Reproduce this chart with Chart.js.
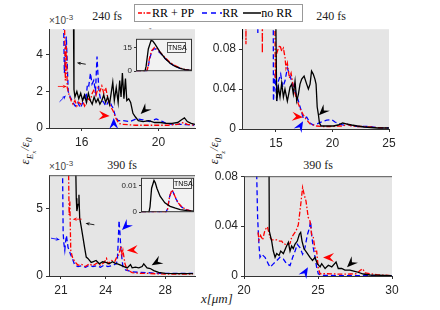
<!DOCTYPE html>
<html>
<head>
<meta charset="utf-8">
<script src="https://cdn.jsdelivr.net/npm/chart.js@4.4.0/dist/chart.umd.min.js"></script>
<style>
body { margin:0; width:440px; height:310px; background:#fff; position:relative; overflow:hidden; font-family:"Liberation Serif", serif; }
canvas { position:absolute; }
.txt { position:absolute; white-space:nowrap; color:#222; }
.ttl { font-size:12px; transform:translateX(-50%); }
.exp { font-family:"Liberation Sans", sans-serif; font-size:10px; color:#444; }
.rot { transform:translate(-50%,-50%) rotate(-90deg); font-size:13px; font-style:italic; }
.tnsa { position:absolute; border:1px solid #555; background:#f4f4f4; font-family:"Liberation Sans", sans-serif; font-size:7px; text-align:center; box-sizing:border-box; }
#legend { position:absolute; left:134px; top:4px; width:169px; height:18px; border:1px solid #999; background:#fff; box-sizing:border-box; font-size:12px; display:flex; align-items:center; }
#legend span { margin-right:2px; }
#legend svg { margin-left:3px; }
</style>
</head>
<body>
<div id="legend">
  <svg width="14" height="6"><line x1="0" y1="3" x2="14" y2="3" stroke="#f00" stroke-width="1.5" stroke-dasharray="4,1.5,1.5,1.5"/></svg><span>RR + PP</span>
  <svg width="20" height="6" style="margin-left:6px"><line x1="0" y1="3" x2="20" y2="3" stroke="#00f" stroke-width="1.5" stroke-dasharray="5,4"/></svg><span>RR</span>
  <svg width="18" height="6"><line x1="0" y1="3" x2="18" y2="3" stroke="#000" stroke-width="1.5"/></svg><span>no RR</span>
</div>

<div class="txt ttl" style="left:107px;top:9px">240 fs</div>
<div class="txt ttl" style="left:331px;top:9px">240 fs</div>
<div class="txt ttl" style="left:122px;top:158px">390 fs</div>
<div class="txt ttl" style="left:318px;top:158px">390 fs</div>

<div class="txt exp" style="left:49px;top:13px">×10<sup style="font-size:8px">-3</sup></div>
<div class="txt exp" style="left:49px;top:159px">×10<sup style="font-size:8px">-3</sup></div>
<div class="txt exp" style="left:137px;top:27px;font-size:6px">×10<sup style="font-size:5px">-3</sup></div>

<div class="txt rot" style="left:27px;top:151px">ε<sub style="font-size:9px">E<sub style="font-size:7px">x</sub></sub>/ε<sub style="font-size:9px">0</sub></div>
<div class="txt rot" style="left:216px;top:151px">ε<sub style="font-size:9px">B<sub style="font-size:7px">z</sub></sub>/ε<sub style="font-size:9px">0</sub></div>
<div class="txt" style="left:201px;top:291px;font-size:13px;font-style:italic">x[μm]</div>

<canvas id="cA"></canvas>
<canvas id="cB"></canvas>
<canvas id="cC"></canvas>
<canvas id="cD"></canvas>
<canvas id="iA"></canvas>
<canvas id="iC"></canvas>
<div class="tnsa" style="left:167px;top:42px;width:19px;height:11px;line-height:9px">TNSA</div>
<div class="tnsa" style="left:173px;top:178px;width:19px;height:11px;line-height:9px">TNSA</div>

<script>
// ---- panel A: E field energy, 240 fs (units of 1e-3)
const aRedX = [15.1, 15.15, 15.2, 15.25, 15.35, 15.45, 15.55, 15.65, 15.75, 15.85, 15.95, 16.05, 16.15, 16.25, 16.35, 16.45, 16.55, 16.65, 16.75, 16.85, 16.95, 17.05, 17.15, 17.25, 17.35, 17.45, 17.55, 17.65, 17.75, 17.85, 17.95, 18.1, 18.4, 18.8, 19.2, 19.6, 20.0, 20.5, 21.0, 21.3, 21.5, 21.9];
const aRedY = [6.5, 2.6, 4.5, 2.2, 1.8, 1.5, 1.3, 1.5, 1.2, 1.4, 1.3, 1.5, 1.2, 1.4, 1.6, 1.5, 1.9, 2.1, 1.8, 2.2, 2.0, 2.3, 1.9, 2.2, 1.7, 1.3, 1.1, 0.9, 0.6, 0.4, 0.25, 0.2, 0.18, 0.15, 0.15, 0.15, 0.15, 0.15, 0.2, 0.3, 0.2, 0.15];
const aBlueX = [15.05, 15.1, 15.2, 15.3, 15.4, 15.5, 15.6, 15.67, 15.8, 15.93, 16.02, 16.1, 16.18, 16.24, 16.3, 16.37, 16.46, 16.54, 16.63, 16.72, 16.8, 16.85, 16.9, 16.98, 17.07, 17.15, 17.25, 17.32, 17.42, 17.49, 17.57, 17.63, 17.77, 17.9, 18.15, 18.5, 18.84, 19.19, 19.53, 19.88, 20.22, 20.4, 20.74, 21.1, 21.43, 21.86];
const aBlueY = [6.5, 3.0, 5.0, 2.0, 1.7, 1.5, 1.3, 1.2, 1.4, 1.1, 1.3, 1.5, 1.9, 1.7, 2.4, 2.3, 3.0, 2.4, 2.6, 2.0, 3.9, 2.9, 2.0, 1.6, 1.5, 1.4, 1.2, 1.3, 1.5, 1.4, 1.2, 1.1, 0.6, 0.4, 0.4, 0.35, 0.5, 0.45, 0.35, 0.5, 0.35, 0.25, 0.2, 0.2, 0.18, 0.15];
const aBlackX = [15.57, 15.6, 15.65, 15.75, 15.85, 15.95, 16.05, 16.15, 16.25, 16.35, 16.45, 16.55, 16.65, 16.75, 16.85, 16.95, 17.05, 17.15, 17.25, 17.35, 17.45, 17.55, 17.62, 17.7, 17.8, 17.9, 17.98, 18.05, 18.12, 18.2, 18.28, 18.35, 18.45, 18.55, 18.67, 18.8, 18.95, 19.2, 19.5, 19.8, 20.1, 20.4, 20.7, 21.0, 21.2, 21.35, 21.5, 21.7, 21.9];
const aBlackY = [6.5, 2.1, 1.7, 2.0, 1.6, 1.9, 1.5, 1.8, 1.4, 1.9, 1.5, 1.3, 1.7, 1.4, 1.6, 1.3, 1.5, 1.8, 1.4, 1.7, 1.3, 2.0, 2.5, 1.5, 2.2, 1.4, 2.6, 1.7, 3.0, 1.6, 2.7, 1.5, 1.6, 1.4, 0.8, 0.6, 0.4, 0.35, 0.4, 0.3, 0.3, 0.25, 0.25, 0.3, 0.45, 0.55, 0.35, 0.25, 0.2];

// ---- panel B: B field energy, 240 fs
const bRedX = [12.33, 12.35, 12.37, 13.78, 13.8, 13.82, 14.88, 14.95, 15.05, 15.22, 15.36, 15.51, 15.66, 15.8, 15.89, 16.01, 16.19, 16.34, 16.54, 16.78, 16.99, 17.19, 17.43, 17.72, 18.02, 18.6, 19.2, 19.78, 20.4, 20.96, 21.25, 21.7, 22.2, 22.73, 23.3, 23.9, 24.5, 24.95];
const bRedY = [0.15, 0.085, 0.15, 0.15, 0.076, 0.15, 0.15, 0.05, 0.075, 0.081, 0.084, 0.078, 0.081, 0.072, 0.061, 0.066, 0.051, 0.056, 0.042, 0.032, 0.025, 0.019, 0.014, 0.009, 0.005, 0.003, 0.0025, 0.0025, 0.003, 0.003, 0.005, 0.003, 0.0025, 0.0025, 0.002, 0.0015, 0.0012, 0.001];
const bBlueX = [13.38, 13.4, 13.42, 14.76, 14.78, 14.92, 15.07, 15.22, 15.42, 15.6, 15.8, 16.01, 16.19, 16.4, 16.6, 16.78, 16.99, 17.19, 17.43, 17.72, 18.02, 18.3, 18.6, 19.04, 19.49, 19.93, 20.22, 20.67, 20.96, 21.25, 21.7, 22.29, 23.18, 23.9, 24.95];
const bBlueY = [0.15, 0.095, 0.15, 0.15, 0.028, 0.055, 0.028, 0.048, 0.055, 0.042, 0.048, 0.061, 0.055, 0.048, 0.042, 0.035, 0.028, 0.02, 0.0105, 0.012, 0.006, 0.004, 0.005, 0.0072, 0.0088, 0.0095, 0.007, 0.005, 0.004, 0.005, 0.003, 0.0025, 0.0025, 0.0015, 0.001];
const bBlackX = [12.0, 12.02, 12.05, 14.95, 15.07, 15.22, 15.36, 15.51, 15.66, 15.8, 16.01, 16.25, 16.4, 16.54, 16.69, 16.84, 16.99, 17.13, 17.28, 17.49, 17.72, 17.87, 18.02, 18.15, 18.3, 18.45, 18.55, 18.65, 18.75, 18.85, 19.0, 19.3, 19.7, 20.1, 20.5, 20.9, 21.3, 21.7, 22.2, 22.8, 23.4, 24.0, 24.5, 25.0];
const bBlackY = [0.15, 0.09, 0.15, 0.15, 0.028, 0.042, 0.032, 0.046, 0.032, 0.04, 0.028, 0.042, 0.045, 0.035, 0.048, 0.028, 0.035, 0.045, 0.05, 0.053, 0.045, 0.04, 0.045, 0.058, 0.055, 0.05, 0.045, 0.022, 0.015, 0.006, 0.003, 0.003, 0.003, 0.003, 0.004, 0.006, 0.005, 0.004, 0.003, 0.002, 0.0015, 0.001, 0.001, 0.001];

// ---- panel C: E field energy, 390 fs (units of 1e-3)
const cRedX = [21.5, 21.55, 21.6, 21.66, 21.77, 21.93, 22.15, 22.4, 22.65, 22.9, 23.15, 23.4, 23.65, 23.9, 24.06, 24.17, 24.39, 24.61, 24.75, 24.9, 25.03, 25.1, 25.16, 25.3, 25.45, 25.78, 26.3, 26.89, 27.5, 27.99, 28.8, 29.87];
const cRedY = [9, 4.5, 5.5, 1.9, 1.4, 1.05, 0.8, 0.85, 0.7, 0.9, 0.75, 0.95, 0.8, 1.0, 1.3, 0.9, 1.15, 1.05, 1.4, 1.6, 2.2, 1.6, 1.9, 0.9, 0.45, 0.25, 0.2, 0.19, 0.16, 0.14, 0.14, 0.14];
const cBlueX = [21.1, 21.15, 21.2, 21.26, 21.32, 21.37, 21.48, 21.56, 21.64, 21.77, 21.93, 22.15, 22.4, 22.65, 22.9, 23.15, 23.4, 23.65, 23.9, 24.15, 24.4, 24.6, 24.72, 24.79, 24.86, 24.9, 24.96, 25.03, 25.16, 25.34, 25.78, 26.3, 26.89, 27.5, 27.99, 28.8, 29.87];
const cBlueY = [9, 3.2, 2.4, 1.9, 2.6, 3.0, 2.1, 1.9, 1.6, 1.3, 0.8, 0.7, 0.75, 0.65, 0.8, 0.7, 0.75, 0.65, 0.8, 0.7, 0.75, 0.85, 0.9, 1.2, 2.9, 4.1, 3.2, 1.9, 0.7, 0.45, 0.3, 0.27, 0.24, 0.2, 0.19, 0.19, 0.19];
const cBlackX = [21.98, 22.03, 22.07, 22.15, 22.21, 22.26, 22.37, 22.48, 22.59, 22.7, 22.81, 22.92, 23.03, 23.14, 23.36, 23.58, 23.8, 24.02, 24.24, 24.46, 24.62, 24.79, 25.01, 25.23, 25.45, 25.67, 25.78, 26.0, 26.23, 26.45, 26.56, 26.78, 27.0, 27.23, 27.56, 27.99, 28.8, 29.87];
const cBlackY = [9, 5.75, 4.8, 5.3, 6.0, 4.3, 3.6, 2.85, 2.1, 1.4, 1.3, 1.15, 1.0, 1.05, 1.15, 0.9, 1.05, 1.0, 0.9, 1.05, 0.95, 0.9, 0.8, 0.7, 0.6, 0.85, 0.6, 0.65, 0.6, 0.7, 0.9, 0.6, 0.55, 0.4, 0.27, 0.19, 0.18, 0.18];

// ---- panel D: B field energy, 390 fs
const dRedX = [20.95, 21.01, 21.12, 21.26, 21.42, 21.58, 21.76, 21.87, 22.05, 22.21, 22.4, 22.55, 22.66, 22.88, 23.11, 23.22, 23.33, 23.51, 23.67, 23.83, 23.96, 24.07, 24.19, 24.34, 24.46, 24.57, 24.68, 24.82, 24.91, 25.02, 25.14, 25.59, 26.2, 26.71, 27.2, 27.61, 27.84, 28.02, 28.18, 28.96, 29.98];
const dRedY = [0.035, 0.029, 0.0325, 0.029, 0.037, 0.0395, 0.031, 0.029, 0.029, 0.029, 0.028, 0.028, 0.026, 0.025, 0.026, 0.031, 0.033, 0.036, 0.041, 0.057, 0.071, 0.065, 0.06, 0.047, 0.044, 0.033, 0.031, 0.02, 0.02, 0.006, 0.0018, 0.0018, 0.0016, 0.0014, 0.0016, 0.0018, 0.0044, 0.0058, 0.0025, 0.001, 0.0003];
const dBlueX = [20.84, 20.86, 20.92, 21.01, 21.08, 21.19, 21.42, 21.64, 21.76, 21.98, 22.21, 22.43, 22.66, 22.88, 23.11, 23.29, 23.45, 23.6, 23.78, 23.96, 24.12, 24.28, 24.41, 24.5, 24.57, 24.68, 24.8, 24.91, 25.02, 25.25, 25.8, 26.71, 28.0, 29.98];
const dBlueY = [0.12, 0.08, 0.047, 0.025, 0.015, 0.0175, 0.015, 0.0097, 0.007, 0.0097, 0.0123, 0.015, 0.0136, 0.0097, 0.0084, 0.015, 0.02, 0.0254, 0.0227, 0.0175, 0.0227, 0.033, 0.038, 0.044, 0.033, 0.0227, 0.015, 0.007, 0.0018, 0.0005, 0.0004, 0.0003, 0.0003, 0.0003];
const dBlackX = [21.68, 21.71, 21.87, 21.98, 22.1, 22.21, 22.37, 22.48, 22.66, 22.84, 23.0, 23.11, 23.22, 23.33, 23.45, 23.6, 23.74, 23.83, 23.92, 24.05, 24.23, 24.46, 24.63, 24.8, 24.95, 25.14, 25.25, 25.48, 25.7, 25.93, 26.22, 26.37, 26.6, 26.82, 27.16, 27.61, 28.06, 28.51, 29.98];
const dBlackY = [0.12, 0.036, 0.028, 0.02, 0.015, 0.018, 0.0165, 0.02, 0.018, 0.023, 0.027, 0.02, 0.024, 0.022, 0.0256, 0.028, 0.0335, 0.035, 0.028, 0.022, 0.019, 0.015, 0.0125, 0.015, 0.0099, 0.0073, 0.0099, 0.006, 0.0086, 0.0073, 0.0112, 0.006, 0.006, 0.0047, 0.0047, 0.0034, 0.0016, 0.0008, 0.0003];

// ---- insets (TNSA spectra, arbitrary x)
const iaBlackX = [0, 16, 18, 22, 27, 30, 34, 43, 52, 61, 70, 79, 87.5, 100];
const iaBlackY = [0, 0, 3, 14, 19.4, 19, 17, 12, 8, 5, 3, 1.8, 1, 0.5];
const iaRedX = [0, 19, 21, 24, 28, 33, 36, 43, 52, 61, 70, 79, 87.5, 100];
const iaRedY = [0, 0, 2, 8, 13, 15, 14.8, 12, 8.5, 5.5, 3.5, 2, 1, 0.5];
const iaBlueX = [0, 19, 21, 24, 28, 32, 35, 43, 52, 61, 70, 79, 87.5, 100];
const iaBlueY = [0, 0, 1.5, 7, 12.5, 14, 14, 11.5, 8, 5, 3, 1.8, 0.9, 0.4];
const icBlackX = [0, 15, 17, 20, 24.5, 27, 30, 36, 45, 55, 65, 74, 87, 100];
const icBlackY = [0, 0, 0.002, 0.009, 0.0119, 0.011, 0.009, 0.006, 0.0035, 0.0022, 0.0015, 0.001, 0.0006, 0.0004];
const icRedX = [0, 47, 50, 54, 58.5, 61, 64, 70, 77, 85, 92, 100];
const icRedY = [0, 0, 0.001, 0.006, 0.0084, 0.0075, 0.006, 0.0035, 0.002, 0.001, 0.0006, 0.0003];
const icBlueX = [0, 47, 50, 54, 58, 61, 64, 70, 77, 85, 92, 100];
const icBlueY = [0, 0, 0.0012, 0.0058, 0.0082, 0.0074, 0.0058, 0.0034, 0.0019, 0.001, 0.0006, 0.0003];

// arrow annotations: tip in data units, direction in degrees (screen), colour, size
const aArrows = [[17.46, 0.65, 5, 'red', 1], [17.67, 0.54, -90, 'blue', 1], [19.07, 0.76, 135, 'black', 1],
	[15.75, 3.57, 190, 'black', 0.4], [15.23, 2.27, 0, 'red', 0.4], [15.18, 1.78, -45, 'blue', 0.4]];
const bArrows = [[17.4, 0.0118, 5, 'red', 1], [17.4, 0.0078, -60, 'blue', 1], [18.8, 0.0137, 135, 'black', 1]];
const cArrows = [[25.1, 3.4, 135, 'blue', 1], [25.43, 1.88, 175, 'red', 1], [27.09, 0.8, 150, 'black', 1],
	[21.79, 4.2, 180, 'red', 0.4], [22.65, 3.9, 190, 'black', 0.4], [20.93, 2.68, 10, 'blue', 0.4]];
const dArrows = [[25.34, 0.0149, 180, 'red', 1], [24.32, 0.007, -60, 'blue', 1], [26.96, 0.007, 135, 'black', 1]];

const COLORS = { red: '#ff0000', blue: '#0000ff', black: '#000000' };
const DASH = { red: [5, 2, 1.5, 2], blue: [5, 3], black: [] };

function ds(xs, ys, c) {
	return {
		data: xs.map((v, i) => ({ x: v, y: ys[i] })),
		borderColor: COLORS[c],
		borderDash: DASH[c],
		borderWidth: 1.3,
		pointRadius: 0,
		tension: 0,
		fill: false
	};
}

function arrowHead(ctx, x, y, ang, col, k) {
	ctx.save();
	ctx.translate(x, y);
	ctx.rotate(ang * Math.PI / 180);
	ctx.fillStyle = col;
	ctx.strokeStyle = col;
	if (k < 1) {
		// small marker: dot-like head with a short tail
		ctx.lineWidth = 0.8;
		ctx.beginPath();
		ctx.moveTo(-3, 0);
		ctx.lineTo(-9, 0);
		ctx.stroke();
	}
	ctx.beginPath();
	ctx.moveTo(0, 0);
	ctx.lineTo(-11 * k, -4.5 * k);
	ctx.lineTo(-7 * k, 0);
	ctx.lineTo(-11 * k, 4.5 * k);
	ctx.closePath();
	ctx.fill();
	ctx.restore();
}

const extras = {
	id: 'extras',
	beforeDraw(chart, args, o) {
		const a = chart.chartArea, ctx = chart.ctx;
		ctx.save();
		ctx.fillStyle = o.bg;
		ctx.fillRect(a.left, a.top, a.right - a.left, a.bottom - a.top);
		ctx.restore();
	},
	afterDatasetsDraw(chart, args, o) {
		const a = chart.chartArea, ctx = chart.ctx;
		ctx.save();
		if (o.box) {
			ctx.strokeStyle = '#333';
			ctx.lineWidth = 1;
			ctx.strokeRect(a.left + 0.5, a.top + 0.5, a.right - a.left - 1, a.bottom - a.top - 1);
		}
		if (o.topLine) {
			ctx.strokeStyle = '#555';
			ctx.lineWidth = 1;
			ctx.beginPath();
			ctx.moveTo(a.left, a.top + 0.5);
			ctx.lineTo(a.right, a.top + 0.5);
			ctx.stroke();
		}
		(o.arrows || []).forEach(([x, y, ang, c, k]) => {
			arrowHead(ctx, chart.scales.x.getPixelForValue(x), chart.scales.y.getPixelForValue(y), ang, COLORS[c], k);
		});
		ctx.restore();
	}
};

function axisStyle(size) {
	return {
		grid: { display: true, drawOnChartArea: false, drawTicks: true, tickLength: 3, color: '#333' },
		border: { display: true, color: '#333', width: 1 },
		ticks: { font: { family: 'Liberation Sans', size: size }, color: '#262626', padding: 3, maxRotation: 0, autoSkip: false }
	};
}

function panel(id, box, xr, yr, xt, yt, sets, arrows, topLine) {
	const cv = document.getElementById(id);
	const padT = 8, padR = 12, yw = 40, xh = 22;
	cv.width = yw + box.w + padR;
	cv.height = padT + box.h + xh;
	cv.style.left = (box.l - yw) + 'px';
	cv.style.top = (box.t - padT) + 'px';
	const xs = axisStyle(12), ys = axisStyle(12);
	xs.ticks.padding = 4;
	return new Chart(cv, {
		type: 'line',
		data: { datasets: sets },
		options: {
			responsive: false,
			animation: false,
			devicePixelRatio: 1,
			layout: { padding: { left: 0, top: padT, right: padR, bottom: 0 } },
			plugins: { legend: { display: false }, tooltip: { enabled: false }, extras: { bg: '#e5e5e5', arrows: arrows, topLine: topLine } },
			scales: {
				x: Object.assign({ type: 'linear', min: xr[0], max: xr[1],
					afterBuildTicks: s => { s.ticks = xt.map(v => ({ value: v })); },
					afterFit: s => { s.height = xh; } }, xs),
				y: Object.assign({ type: 'linear', min: yr[0], max: yr[1],
					afterBuildTicks: s => { s.ticks = yt.map(v => ({ value: v })); },
					afterFit: s => { s.width = yw; } }, ys)
			}
		},
		plugins: [extras]
	});
}

function inset(id, box, yr, yt, sets) {
	const cv = document.getElementById(id);
	const padT = 6, padR = 3, padB = 2, yw = 22;
	cv.width = yw + box.w + padR;
	cv.height = padT + box.h + padB;
	cv.style.left = (box.l - yw) + 'px';
	cv.style.top = (box.t - padT) + 'px';
	const ys = axisStyle(8);
	ys.border.display = false;
	ys.grid.tickLength = 2;
	ys.ticks.padding = 2;
	return new Chart(cv, {
		type: 'line',
		data: { datasets: sets },
		options: {
			responsive: false,
			animation: false,
			devicePixelRatio: 1,
			layout: { padding: { left: 0, top: padT, right: padR, bottom: padB } },
			plugins: { legend: { display: false }, tooltip: { enabled: false }, extras: { bg: '#f2f2f2', box: true } },
			scales: {
				x: { type: 'linear', min: 0, max: 100, display: false },
				y: Object.assign({ type: 'linear', min: yr[0], max: yr[1],
					afterBuildTicks: s => { s.ticks = yt.map(v => ({ value: v })); },
					afterFit: s => { s.width = yw; } }, ys)
			}
		},
		plugins: [extras]
	});
}

panel('cA', { l: 49, t: 27, w: 146, h: 101 }, [14.3, 21.9], [0, 5.4], [16, 20], [0, 2, 4],
	[ds(aBlackX, aBlackY, 'black'), ds(aRedX, aRedY, 'red'), ds(aBlueX, aBlueY, 'blue')], aArrows, false);
panel('cB', { l: 242, t: 27, w: 147, h: 102 }, [12, 25], [0, 0.1], [15, 20, 25], [0, 0.04, 0.08],
	[ds(bBlackX, bBlackY, 'black'), ds(bRedX, bRedY, 'red'), ds(bBlueX, bBlueY, 'blue')], bArrows, false);
panel('cC', { l: 49, t: 173, w: 146, h: 103 }, [20.2, 30], [0, 7.45], [21, 24, 28], [0, 5],
	[ds(cBlackX, cBlackY, 'black'), ds(cRedX, cRedY, 'red'), ds(cBlueX, cBlueY, 'blue')], cArrows, true);
panel('cD', { l: 244, t: 174, w: 148, h: 102 }, [20, 30], [0, 0.08], [20, 25, 30], [0, 0.04, 0.08],
	[ds(dBlackX, dBlackY, 'black'), ds(dRedX, dRedY, 'red'), ds(dBlueX, dBlueY, 'blue')], dArrows, true);

inset('iA', { l: 136, t: 38, w: 56, h: 38 }, [0, 20.4], [0, 15],
	[ds(iaBlackX, iaBlackY, 'black'), ds(iaRedX, iaRedY, 'red'), ds(iaBlueX, iaBlueY, 'blue')]);
inset('iC', { l: 141, t: 177, w: 53, h: 40 }, [0, 0.0129], [0, 0.01],
	[ds(icBlackX, icBlackY, 'black'), ds(icRedX, icRedY, 'red'), ds(icBlueX, icBlueY, 'blue')]);
</script>
</body>
</html>
